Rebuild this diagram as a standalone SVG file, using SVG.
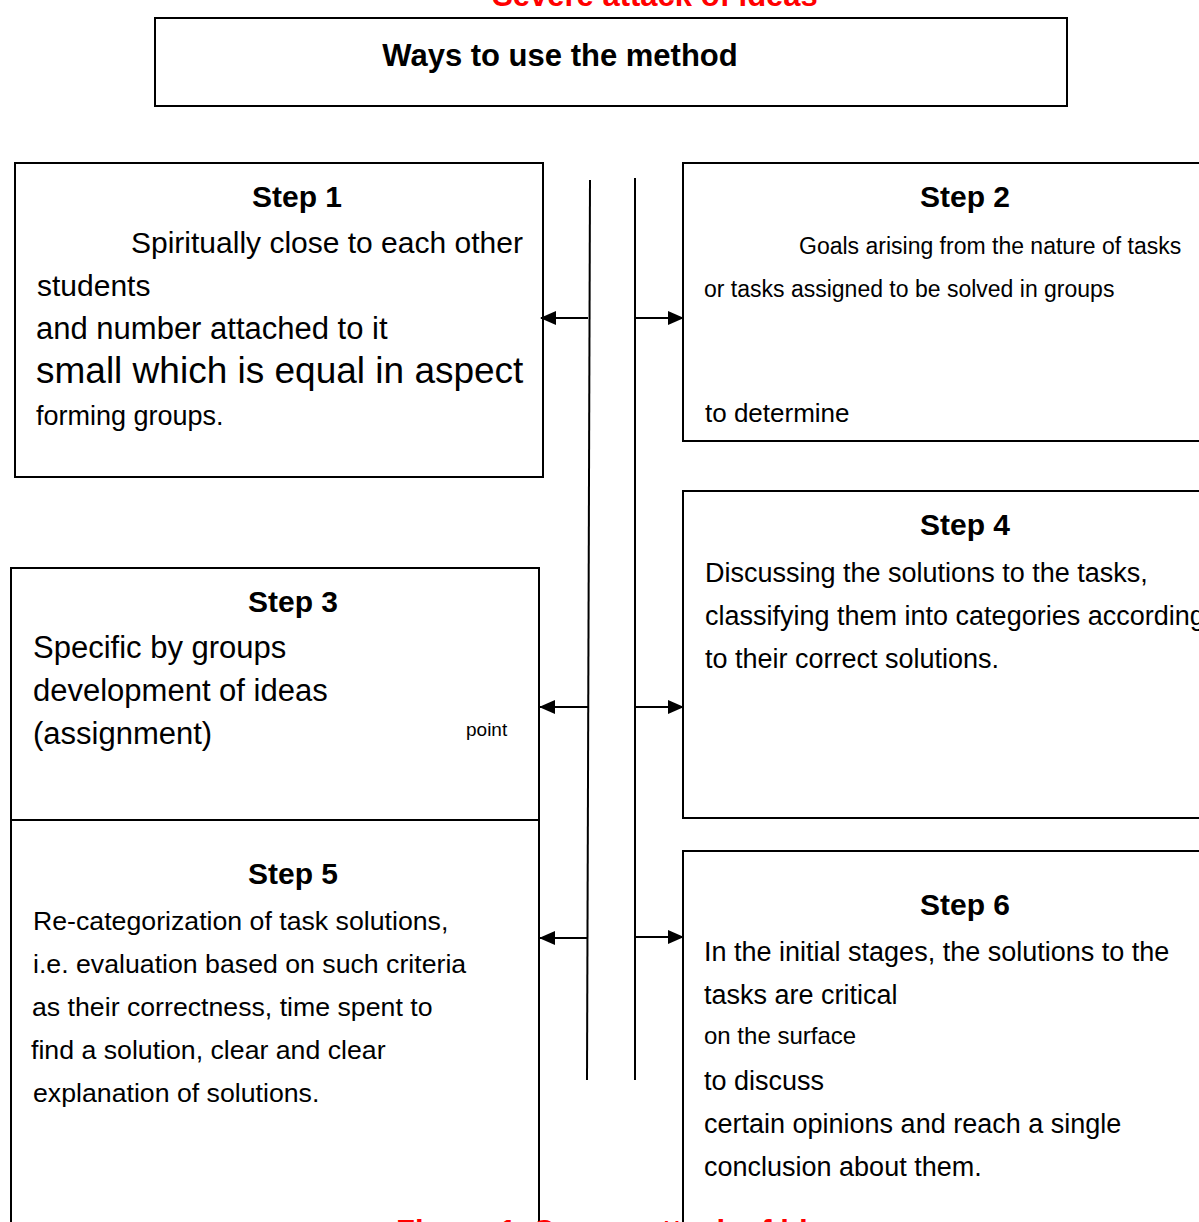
<svg xmlns="http://www.w3.org/2000/svg" width="1199" height="1222" viewBox="0 0 1199 1222">
<defs>
<style>
text{font-family:"Liberation Sans",Arial,sans-serif;fill:#000}
.h{font-weight:bold;font-size:30px;text-anchor:middle}
.red{font-weight:bold;font-size:31px;fill:#ff0000}
.box{fill:#fff;stroke:#000;stroke-width:2}
.ln{stroke:#000;stroke-width:2;fill:none}
</style>
<marker id="ah" markerWidth="16" markerHeight="16" refX="15" refY="8" orient="auto" markerUnits="userSpaceOnUse">
<path d="M0,1 L16,8 L0,15 Z" fill="#000"/>
</marker>
</defs>
<rect width="1199" height="1222" fill="#fff"/>
<text class="red" x="655" y="6" text-anchor="middle">Severe attack of ideas</text>
<g id="title">
<rect class="box" x="155" y="18" width="912" height="88"/>
<text x="560" y="66" style="font-weight:bold;font-size:31px" text-anchor="middle">Ways to use the method</text>
</g>
<g id="step1">
<rect class="box" x="15" y="163" width="528" height="314"/>
<text class="h" x="297" y="207">Step 1</text>
<text x="131" y="253" font-size="30">Spiritually close to each other</text>
<text x="37" y="296" font-size="30">students</text>
<text x="36" y="339" font-size="31">and number attached to it</text>
<text x="36" y="383" font-size="37">small which is equal in aspect</text>
<text x="36" y="425" font-size="27">forming groups.</text>
</g>
<g id="step2">
<rect class="box" x="683" y="163" width="530" height="278"/>
<text class="h" x="965" y="207">Step 2</text>
<text x="799" y="254" font-size="23">Goals arising from the nature of tasks</text>
<text x="704" y="297" font-size="23">or tasks assigned to be solved in groups</text>
<text x="705" y="422" font-size="26">to determine</text>
</g>
<g id="step3">
<path class="ln" d="M11,820 V568 H539 V820"/>
<text class="h" x="293" y="612">Step 3</text>
<text x="33" y="658" font-size="31">Specific by groups</text>
<text x="33" y="701" font-size="31">development of ideas</text>
<text x="33" y="744" font-size="31">(assignment)</text>
<text x="466" y="736" font-size="19">point</text>
</g>
<g id="step4">
<rect class="box" x="683" y="491" width="530" height="327"/>
<text class="h" x="965" y="535">Step 4</text>
<text x="705" y="582" font-size="27">Discussing the solutions to the tasks,</text>
<text x="705" y="625" font-size="27">classifying them into categories according</text>
<text x="705" y="668" font-size="27">to their correct solutions.</text>
</g>
<g id="step5">
<path class="ln" d="M11,1230 V820 H539 V1230"/>
<text class="h" x="293" y="884">Step 5</text>
<text x="33" y="930" font-size="26.7">Re-categorization of task solutions,</text>
<text x="33" y="973" font-size="26.7">i.e. evaluation based on such criteria</text>
<text x="32" y="1016" font-size="26.7">as their correctness, time spent to</text>
<text x="31" y="1059" font-size="26.7">find a solution, clear and clear</text>
<text x="33" y="1102" font-size="26.7">explanation of solutions.</text>
</g>
<g id="step6">
<rect class="box" x="683" y="851" width="530" height="390"/>
<text class="h" x="965" y="915">Step 6</text>
<text x="704" y="961" font-size="27">In the initial stages, the solutions to the</text>
<text x="704" y="1004" font-size="27">tasks are critical</text>
<text x="704" y="1044" font-size="24">on the surface</text>
<text x="704" y="1090" font-size="27">to discuss</text>
<text x="704" y="1133" font-size="27">certain opinions and reach a single</text>
<text x="704" y="1176" font-size="27">conclusion about them.</text>
</g>
<g id="connectors">
<path class="ln" d="M590,180 L587,1080"/>
<path class="ln" d="M635,178 L635,1080"/>
<path class="ln" d="M588,318 H541" marker-end="url(#ah)"/>
<path class="ln" d="M588,707 H540" marker-end="url(#ah)"/>
<path class="ln" d="M587,938 H540" marker-end="url(#ah)"/>
<path class="ln" d="M636,318 H683" marker-end="url(#ah)"/>
<path class="ln" d="M636,707 H683" marker-end="url(#ah)"/>
<path class="ln" d="M636,937 H683" marker-end="url(#ah)"/>
</g>
<text class="red" x="396" y="1242">Figure 1. Severe attack of ideas</text>
</svg>
